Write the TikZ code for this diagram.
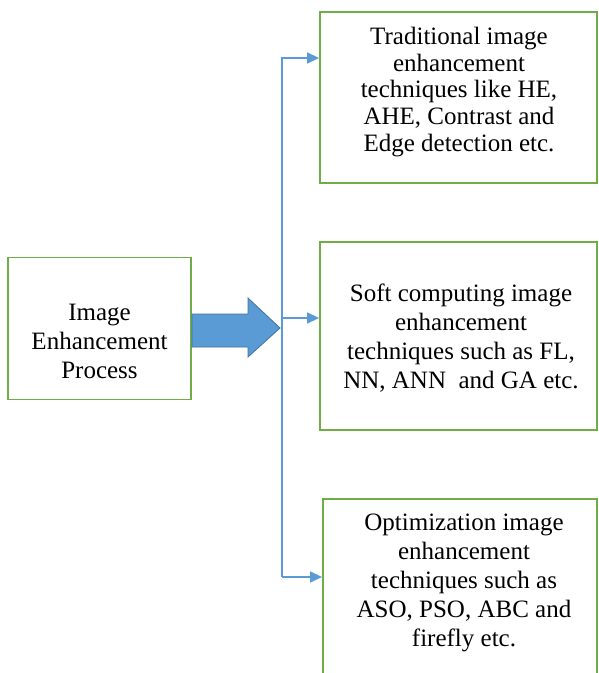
\documentclass[tikz,border=0pt]{standalone}
\usepackage{fontspec}
\setmainfont{Liberation Serif}
\usetikzlibrary{arrows.meta}
\definecolor{boxgreen}{RGB}{112,173,71}
\definecolor{lineblue}{RGB}{91,155,213}
\definecolor{arrowedge}{RGB}{65,113,156}
\tikzset{
  box/.style={draw=boxgreen, line width=1.8pt, rectangle, inner sep=0pt},
  txt/.style={align=center, inner sep=0pt, font=\fontsize{25}{29}\selectfont},
  conn/.style={draw=lineblue, line width=1.5pt},
  tip/.style={-{Triangle[length=12pt,width=11pt,fill=lineblue]}}
}
\begin{document}
\begin{tikzpicture}[x=1pt,y=-1pt]
\useasboundingbox (0,0) rectangle (598,673);
\begin{scope}
\clip (0,0) rectangle (598,673);
% boxes
\node[box, minimum width=183pt, minimum height=142pt] (b0) at (99.5,328.5) {};
\node[box, minimum width=277pt, minimum height=171pt] (b1) at (458.5,97.5) {};
\node[box, minimum width=277pt, minimum height=188pt] (b2) at (458.5,336) {};
\node[box, minimum width=274pt, minimum height=200pt] (b3) at (460,599) {};
% texts
\node[txt] (t0) at (99.5,341) {Image\\Enhancement\\Process};
\node[txt, font=\fontsize{25}{26.7}\selectfont] (t1) at (459,92) {Traditional image\\enhancement\\techniques like HE,\\AHE, Contrast and\\Edge detection etc.};
\node[txt] (t2) at (461,338) {Soft computing image\\enhancement\\techniques such as FL,\\NN, ANN\ \ and GA etc.};
\node[txt] (t3) at (464,583) {Optimization image\\enhancement\\techniques such as\\ASO, PSO, ABC and\\firefly etc.};
% block arrow
\fill[lineblue, draw=arrowedge, line width=0.8pt]
  (192,314) -- (248,314) -- (248,298) -- (280,328) -- (248,357) -- (248,347) -- (192,347) -- cycle;
% connectors
\coordinate (top) at (282,57);
\coordinate (bot) at (282,577);
\coordinate (j1) at (282,58);
\coordinate (j2) at (282,318);
\coordinate (j3) at (282,577);
\draw[conn] (top) -- (bot);
\draw[conn, tip] (j1) -- (b1.west |- j1);
\draw[conn, tip] (j2) -- (b2.west |- j2);
\draw[conn, tip] (j3) -- (b3.west |- j3);
\end{scope}
\end{tikzpicture}
\end{document}
